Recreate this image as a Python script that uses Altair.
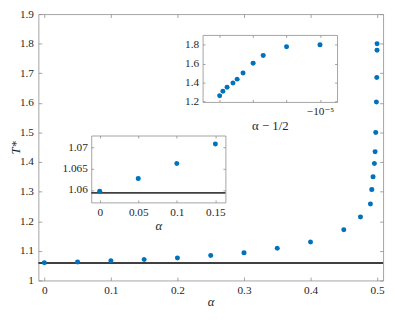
import altair as alt
import pandas as pd

# ---------------- data ----------------
alpha = [0, 0.05, 0.1, 0.15, 0.2, 0.25, 0.3, 0.35, 0.4, 0.45, 0.475,
         0.49, 0.492, 0.494, 0.496, 0.497, 0.498, 0.499, 0.4995, 0.4999, 0.49999]
t_star = [1.0597, 1.0627, 1.0662, 1.0707, 1.076, 1.084, 1.094, 1.109, 1.130, 1.171, 1.214,
          1.258, 1.307, 1.350, 1.395, 1.435, 1.500, 1.603, 1.686, 1.778, 1.800]
t_ref = [1.0593]

main_x_ticks = [0, 0.1, 0.2, 0.3, 0.4, 0.5]
main_y_ticks = [1, 1.1, 1.2, 1.3, 1.4, 1.5, 1.6, 1.7, 1.8, 1.9]
inset1_x_ticks = [0, 0.05, 0.1, 0.15]
inset1_y_ticks = [1.06, 1.065, 1.07]
inset2_x_ticks = [-1e-2, -1e-3, -1e-4, -1e-5]
inset2_y_ticks = [1.2, 1.4, 1.6, 1.8]

main_x_domain = [-0.009, 0.509]
main_y_domain = [1.0, 1.9]
inset1_x_domain = [-0.011, 0.163]
inset1_y_domain = [1.0571, 1.0727]
inset2_x_domain = [-0.0324, -3.1e-6]
inset2_y_domain = [1.193, 1.904]

df = pd.DataFrame({"alpha": alpha, "T": t_star})
df["dalpha"] = df["alpha"] - 0.5
df_in1 = df[df["alpha"] <= 0.15]
df_in2 = df[df["alpha"] >= 0.49]

# ---------------- layout ----------------
W, H = 352, 272
TOP = 11  # page y of the view's top edge
FRAME = "#8c8c8c"
TXT = "#262626"
BLUE = "#0072BD"
FONT = "'Liberation Serif', 'DejaVu Serif', serif"


def axis(orient, offset, kind, vals, tick_len=3, fmt=None, expr=None,
         title=None, lab_pad=5, title_pad=3, title_style="italic", title_size=13,
         title_x=None):
    kw = dict(orient=orient, offset=offset, values=vals, grid=False,
              labelFlush=False, labelOverlap=False,
              domainColor=FRAME, tickColor=FRAME, domainWidth=0.8, tickWidth=0.8,
              title=title)
    if kind == "labels":
        kw.update(domain=True, ticks=False, tickSize=0, labels=True, labelPadding=lab_pad,
                  labelFont=FONT, labelFontSize=11.5, labelColor=TXT,
                  titlePadding=title_pad, titleFontStyle=title_style, titleFontSize=title_size,
                  titleFont=FONT, titleFontWeight="normal", titleColor=TXT)
        if title_x is not None:
            kw["titleX"] = title_x
        if fmt is not None:
            kw["format"] = fmt
        if expr is not None:
            kw["labelExpr"] = expr
    elif kind == "edge":
        kw.update(domain=True, ticks=False, labels=False)
    else:  # inward ticks only
        kw.update(domain=False, ticks=True, tickSize=tick_len, labels=False)
    return alt.Axis(**kw)


def panel(data, xf, yf, xdom, ydom, box, xticks, yticks, xfmt=None, yfmt=None,
          xexpr=None, xtitle=None, ytitle=None, tick_len=3, xtype="linear",
          xlab_pad=5, ylab_pad=5, xtitle_pad=3, ytitle_pad=2, xtitle_style="italic",
          ytitle_x=None):
    left, right, bottom, top = box
    if xtype == "log":
        xs = alt.Scale(type="log", domain=xdom, range=[left, right], nice=False)
    else:
        xs = alt.Scale(domain=xdom, range=[left, right], nice=False, zero=False)
    ys = alt.Scale(domain=ydom, range=[bottom, top], nice=False, zero=False)

    specs = [
        # labelled bottom + left edges
        (axis("bottom", -(H - bottom), "labels", xticks, fmt=xfmt, expr=xexpr, title=xtitle,
              lab_pad=xlab_pad, title_pad=xtitle_pad, title_style=xtitle_style),
         axis("left", -left, "labels", yticks, fmt=yfmt, title=ytitle,
              lab_pad=ylab_pad, title_pad=ytitle_pad, title_x=ytitle_x), 1),
        # inward ticks on bottom + left edges
        (axis("top", -bottom, "ticks", xticks, tick_len),
         axis("right", -(W - left), "ticks", yticks, tick_len), 0),
        # top + right edges
        (axis("top", -top, "edge", xticks),
         axis("right", -(W - right), "edge", yticks), 0),
        # inward ticks on top + right edges
        (axis("bottom", -(H - top), "ticks", xticks, tick_len),
         axis("left", -right, "ticks", yticks, tick_len), 0),
    ]
    layers = []
    for xa, ya, op in specs:
        layers.append(
            alt.Chart(data).mark_circle(size=26, color=BLUE, opacity=op).encode(
                x=alt.X(f"{xf}:Q", scale=xs, axis=xa),
                y=alt.Y(f"{yf}:Q", scale=ys, axis=ya),
            )
        )
    return layers, xs, ys


# main panel
main_layers, mxs, mys = panel(
    df, "alpha", "T", main_x_domain, main_y_domain, (0, W, H, 0),
    main_x_ticks, main_y_ticks, xfmt=".1~f", yfmt=".1~f",
    xtitle="α", ytitle="T*", tick_len=3.5, xlab_pad=4, xtitle_pad=0, ytitle_pad=1,
    ytitle_x=-16)

main_rule = alt.Chart(pd.DataFrame({"T": t_ref})).mark_rule(
    color="#404040", strokeWidth=2).encode(
    y=alt.Y("T:Q", scale=mys, axis=None))

# inset 1 (small alpha)
in1_layers, i1xs, i1ys = panel(
    df_in1, "alpha", "T", inset1_x_domain, inset1_y_domain,
    (54, 191, 203.3 - TOP, 135 - TOP),
    inset1_x_ticks, inset1_y_ticks, xfmt=".2~f", yfmt=".3~f",
    xtitle="α", tick_len=2.5, xlab_pad=4, ylab_pad=4, xtitle_pad=2)

rule_df = pd.DataFrame({"x0": [inset1_x_domain[0]], "x1": [inset1_x_domain[1]], "T": t_ref})
in1_rule = alt.Chart(rule_df).mark_rule(color="#404040", strokeWidth=1.8).encode(
    x=alt.X("x0:Q", scale=i1xs, axis=None),
    x2="x1:Q",
    y=alt.Y("T:Q", scale=i1ys, axis=None))

# inset 2 (alpha close to 1/2, log axis)
in2_layers, _, _ = panel(
    df_in2, "dalpha", "T", inset2_x_domain, inset2_y_domain,
    (167.7, 305, 100.7 - TOP, 32.3 - TOP),
    inset2_x_ticks, inset2_y_ticks, yfmt=".1f",
    xexpr="datum.value > -0.00002 && datum.value < -0.000005 ? '−10⁻⁵' : ''",
    xtitle="α − 1/2", tick_len=2.5, xtype="log", xlab_pad=4, ylab_pad=4,
    xtitle_pad=3, xtitle_style="normal")

chart = alt.layer(main_rule, *main_layers, in1_rule, *in1_layers, *in2_layers).resolve_scale(
    x="independent", y="independent").resolve_axis(
    x="independent", y="independent").properties(
    width=W, height=H,
    autosize=alt.AutoSizeParams(type="none"),
    padding={"left": 31, "top": TOP - 8, "right": 4, "bottom": 304 - (TOP - 8) - H},
).configure(font=FONT).configure_view(strokeWidth=0).configure_axis(
    labelFont=FONT, labelFontSize=11.5, labelColor=TXT,
    titleFont=FONT, titleColor=TXT)

chart.save("out.html", embed_options={"renderer": "svg", "actions": False})
